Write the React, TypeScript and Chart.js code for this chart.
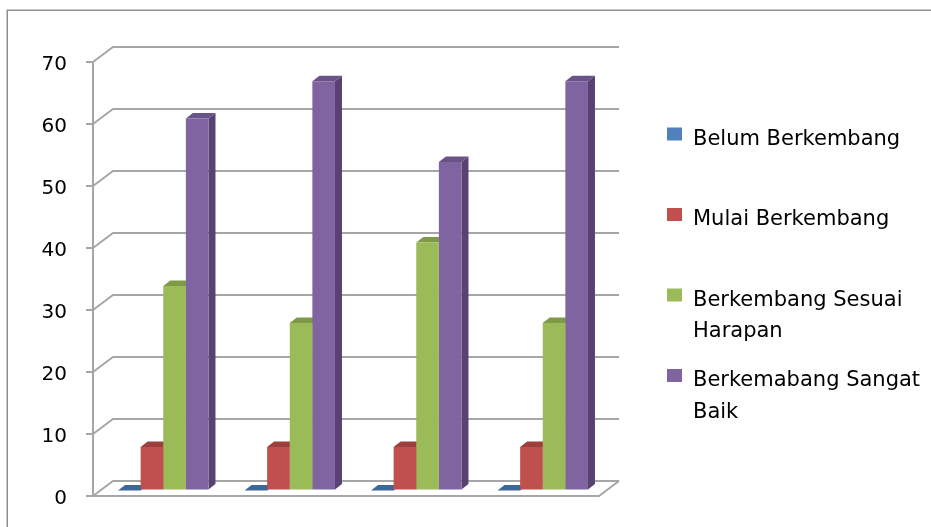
import React, { useEffect, useRef } from "react";
import { Chart, registerables } from "chart.js";

Chart.register(...registerables);

// ---- data ----
const categories = ["1", "2", "3", "4"];
const seriesNames = [
  "Belum Berkembang",
  "Mulai Berkembang",
  "Berkembang Sesuai Harapan",
  "Berkemabang Sangat Baik",
];
const belumBerkembang = [0, 0, 0, 0];
const mulaiBerkembang = [7, 7, 7, 7];
const berkembangSesuaiHarapan = [33, 27, 40, 27];
const berkemabangSangatBaik = [60, 66, 53, 66];
const yTickValues = [0, 10, 20, 30, 40, 50, 60, 70];

// ---- styles ----
const frontColors = ["#4F81BD", "#C0504D", "#9BBB59", "#8064A2"];
const topColors = ["#3E6799", "#9D3F3C", "#7E9A47", "#6A5387"];
const sideColors = ["#385D8A", "#8C3A37", "#71893F", "#574271"];
const FONT = "'DejaVu Sans', sans-serif";

// wall depth offset and bar depth
const DX = 20;
const DY = 15;
const BX = 7;
const BY = 5.5;
const FX = 7;
const FY = 5.5;

const threeD = {
  id: "threeD",
  beforeDraw(chart: any) {
    const ctx = chart.ctx;
    ctx.save();
    ctx.strokeStyle = "#8e8e8e";
    ctx.lineWidth = 1.5;
    ctx.beginPath();
    ctx.moveTo(7.25, chart.height);
    ctx.lineTo(7.25, 10.25);
    ctx.lineTo(chart.width, 10.25);
    ctx.stroke();
    ctx.restore();
  },
  beforeDatasetsDraw(chart: any) {
    const { ctx, chartArea: a, scales } = chart;
    const ys = scales.y;
    ctx.save();
    ctx.strokeStyle = "#a6a6a6";
    ctx.lineWidth = 2;
    ys.ticks.forEach((t: any) => {
      const py = ys.getPixelForValue(t.value);
      ctx.beginPath();
      ctx.moveTo(a.left, py);
      ctx.lineTo(a.left + DX, py - DY);
      ctx.lineTo(a.right + DX, py - DY);
      ctx.stroke();
    });
    const p0 = ys.getPixelForValue(0);
    ctx.beginPath();
    ctx.moveTo(a.left, p0);
    ctx.lineTo(a.right, p0);
    ctx.lineTo(a.right + DX, p0 - DY);
    ctx.stroke();
    ctx.restore();

    ctx.save();
    ctx.translate(BX, -BY);
    chart.data.datasets.forEach((ds: any, i: number) => {
      const meta = chart.getDatasetMeta(i);
      meta.data.forEach((bar: any) => {
        const { x, y, base, width } = bar.getProps(["x", "y", "base", "width"], true);
        const l = x - width / 2;
        const r = x + width / 2;
        ctx.fillStyle = sideColors[i];
        ctx.beginPath();
        ctx.moveTo(r, y);
        ctx.lineTo(r + FX, y - FY);
        ctx.lineTo(r + FX, base - FY);
        ctx.lineTo(r, base);
        ctx.closePath();
        ctx.fill();
        ctx.fillStyle = topColors[i];
        ctx.beginPath();
        ctx.moveTo(l, y);
        ctx.lineTo(l + FX, y - FY);
        ctx.lineTo(r + FX, y - FY);
        ctx.lineTo(r, y);
        ctx.closePath();
        ctx.fill();
      });
    });
  },
  afterDatasetsDraw(chart: any) {
    chart.ctx.restore();
  },
  afterDraw(chart: any) {
    const { ctx, chartArea: a } = chart;
    ctx.save();
    ctx.font = `21px ${FONT}`;
    ctx.textBaseline = "alphabetic";
    ctx.textAlign = "left";
    const sx = a.right + 68;
    const tx = a.right + 94;
    const startY = 134;
    const step = 80.5;
    const lh = 31.5;
    const maxW = chart.width - tx - 4;
    chart.data.datasets.forEach((ds: any, i: number) => {
      const cy = startY + i * step;
      ctx.fillStyle = ds.backgroundColor;
      ctx.fillRect(sx, cy - 6.5, 15, 13);
      const words = String(ds.label).split(" ");
      const lines: string[] = [];
      let cur = "";
      words.forEach((w) => {
        const t = cur ? cur + " " + w : w;
        if (cur && ctx.measureText(t).width > maxW) {
          lines.push(cur);
          cur = w;
        } else cur = t;
      });
      if (cur) lines.push(cur);
      ctx.fillStyle = "#000";
      lines.forEach((ln, k) => ctx.fillText(ln, tx, cy + 10.5 + k * lh));
    });
    ctx.restore();
  },
};

export default function App() {
  const ref = useRef<HTMLCanvasElement | null>(null);
  useEffect(() => {
    if (!ref.current) return;
    const series = [belumBerkembang, mulaiBerkembang, berkembangSesuaiHarapan, berkemabangSangatBaik];
    const chart = new Chart(ref.current, {
      type: "bar",
      data: {
        labels: categories,
        datasets: series.map((d, i) => ({
          label: seriesNames[i],
          data: d,
          backgroundColor: frontColors[i],
          borderWidth: 0,
          categoryPercentage: 0.715,
          barPercentage: 1.0,
        })),
      },
      options: {
        animation: false,
        responsive: false,
        devicePixelRatio: 1,
        layout: { padding: { left: 0, top: 62, right: 332, bottom: 30 } },
        plugins: { legend: { display: false }, tooltip: { enabled: false } },
        scales: {
          x: { display: false, offset: true },
          y: {
            min: 0,
            max: 70,
            afterBuildTicks: (s: any) => {
              s.ticks = yTickValues.map((v) => ({ value: v }));
            },
            afterFit: (s: any) => {
              s.width = 93;
            },
            ticks: {
              color: "#000",
              font: { family: FONT, size: 20 },
              padding: 19,
              labelOffset: 3,
            },
            grid: {
              drawOnChartArea: false,
              drawTicks: true,
              tickLength: 7,
              color: "#a6a6a6",
              lineWidth: 2,
            },
            border: { display: true, color: "#a6a6a6", width: 2 },
          },
        },
      },
      plugins: [threeD],
    } as any);
    return () => chart.destroy();
  }, []);
  return (
    <div style={{ position: "fixed", left: 0, top: 0, width: 931, height: 527, background: "#fff" }}>
      <canvas ref={ref} width={931} height={527} style={{ display: "block" }} />
    </div>
  );
}
